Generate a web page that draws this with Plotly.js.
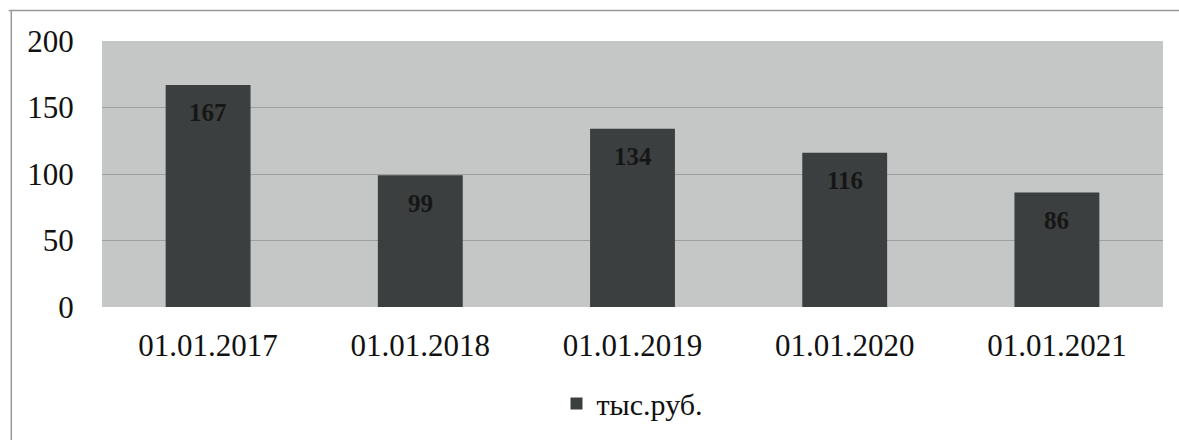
<!DOCTYPE html>
<html><head><meta charset="utf-8">
<script src="https://cdn.plot.ly/plotly-3.0.1.min.js"></script>
<style>body{margin:0;background:#fff}#c{width:1179px;height:441px}</style>
</head><body><div id="c"></div>
<script>
const categories = ["01.01.2017","01.01.2018","01.01.2019","01.01.2020","01.01.2021"];
const values = [167, 99, 134, 116, 86];
const seriesName = "тыс.руб.";
const yTicks = [0, 50, 100, 150, 200];

const serif = "Liberation Serif";
const trace = {
  type: "bar", x: categories, y: values, name: seriesName,
  marker: {color: "#3c3f3f"},
  width: 0.4
};
const labels = categories.map((c, i) => ({
  x: c, y: values[i], xref: "x", yref: "y", text: "<b>" + values[i] + "</b>",
  showarrow: false, yanchor: "middle", yshift: -28,
  font: {family: serif, size: 25, color: "#161616"}
}));
const layout = {
  width: 1179, height: 441,
  margin: {l: 102, r: 16, t: 41, b: 134, autoexpand: false},
  paper_bgcolor: "#ffffff", plot_bgcolor: "#c5c7c7",
  font: {family: serif, color: "#111"},
  xaxis: {type: "category", tickfont: {size: 31, family: serif, color: "#111"},
          showgrid: false, ticks: "outside", ticklen: 11, tickcolor: "rgba(0,0,0,0)", showline: false},
  yaxis: {range: [0, 200], tickvals: yTicks, ticktext: yTicks.map(String),
          tickfont: {size: 31, family: serif, color: "#111"},
          showgrid: true, gridcolor: "#9ea0a0", gridwidth: 1, zeroline: false,
          ticks: "outside", ticklen: 21, tickcolor: "rgba(0,0,0,0)"},
  showlegend: true,
  legend: {orientation: "h", x: 0.5, xanchor: "center", y: -0.265, yanchor: "top",
           font: {size: 30, family: serif, color: "#111"}, bgcolor: "rgba(0,0,0,0)",
           itemwidth: 30},
  annotations: labels,
  shapes: [
    {type: "line", xref: "paper", yref: "paper", x0: -0.088, x1: 1.02, y0: 1.115, y1: 1.115,
     line: {color: "#999", width: 1.5}},
    {type: "line", xref: "paper", yref: "paper", x0: -0.0855, x1: -0.0855, y0: 1.115, y1: -0.5,
     line: {color: "#999", width: 1.5}}
  ]
};
Plotly.newPlot("c", [trace], layout, {displayModeBar: false, staticPlot: true});
</script></body></html>
